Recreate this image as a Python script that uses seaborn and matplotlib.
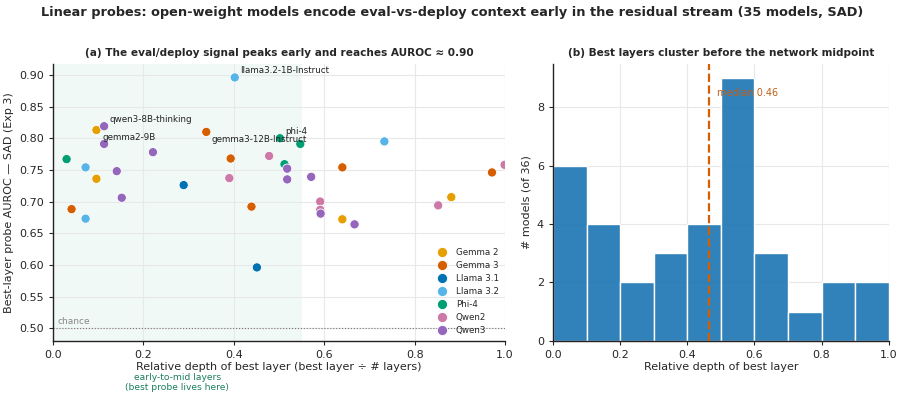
import numpy as np
import pandas as pd
import seaborn as sns
import matplotlib.pyplot as plt

# model families, relative depth of best layer, best-layer AUROC
family = (["Gemma 2"] * 4 + ["Gemma 3"] * 6 + ["Llama 3.1"] * 2 + ["Llama 3.2"] * 4
          + ["Phi-4"] * 4 + ["Qwen2"] * 6 + ["Qwen3"] * 10)
depth = [0.096, 0.096, 0.881, 0.640,
         0.339, 0.393, 0.041, 0.439, 0.640, 0.971,
         0.289, 0.451,
         0.402, 0.072, 0.072, 0.733,
         0.030, 0.502, 0.547, 0.512,
         0.478, 0.390, 0.591, 0.591, 0.852, 0.999,
         0.113, 0.113, 0.221, 0.141, 0.152, 0.518, 0.518, 0.571, 0.592, 0.667]
auroc = [0.813, 0.736, 0.707, 0.672,
         0.810, 0.768, 0.688, 0.692, 0.754, 0.746,
         0.726, 0.596,
         0.896, 0.754, 0.673, 0.795,
         0.767, 0.800, 0.791, 0.759,
         0.772, 0.737, 0.700, 0.687, 0.694, 0.758,
         0.819, 0.791, 0.778, 0.748, 0.706, 0.752, 0.735, 0.739, 0.681, 0.664]

families = ["Gemma 2", "Gemma 3", "Llama 3.1", "Llama 3.2", "Phi-4", "Qwen2", "Qwen3"]
colors = ["#E69F00", "#D55E00", "#0072B2", "#56B4E9", "#009E73", "#CC79A7", "#9467BD"]

# labelled points: index into the arrays, label, text offset in points
labels = [(12, "llama3.2-1B-Instruct", (4, 3)),
          (26, "qwen3-8B-thinking", (4, 3)),
          (27, "gemma2-9B", (-1, 3)),
          (4, "gemma3-12B-Instruct", (4, -7)),
          (17, "phi-4", (4, 3))]

df = pd.DataFrame({"family": family, "depth": depth, "auroc": auroc})
median = np.median(depth)

sns.set_style("whitegrid")
plt.rcParams["font.family"] = ["DejaVu Sans"]
plt.rcParams["grid.color"] = "#e8e8e8"

fig = plt.figure(figsize=(9.05, 4.01), dpi=100)
ax1 = fig.add_axes([0.0586, 0.150, 0.4995, 0.690])
ax2 = fig.add_axes([0.611, 0.150, 0.371, 0.690])

fig.suptitle("Linear probes: open-weight models encode eval-vs-deploy context early in the residual stream (35 models, SAD)",
             fontsize=9.3, fontweight="bold", y=0.985)

# (a) scatter
ax1.axvspan(0, 0.55, color="#009E73", alpha=0.06, lw=0, zorder=0)
ax1.axhline(0.5, color="#777777", ls=":", lw=0.8, zorder=1)
ax1.text(0.01, 0.503, "chance", color="#888888", fontsize=6.5, va="bottom")
sns.scatterplot(data=df, x="depth", y="auroc", hue="family", hue_order=families,
                palette=colors, s=44, edgecolor="white", linewidth=0.6, ax=ax1, zorder=3)
for i, txt, off in labels:
    ax1.annotate(txt, (depth[i], auroc[i]), xytext=off, textcoords="offset points",
                 fontsize=6.3, color="#222222")
ax1.set_xlim(0, 1)
ax1.set_ylim(0.48, 0.917)
ax1.set_xticks(np.arange(0, 1.01, 0.2))
ax1.set_yticks(np.arange(0.5, 0.91, 0.05))
ax1.tick_params(labelsize=8, length=3, left=True, bottom=True)
ax1.set_xlabel("Relative depth of best layer (best layer ÷ # layers)", fontsize=8, labelpad=1.5)
ax1.set_ylabel("Best-layer probe AUROC — SAD (Exp 3)", fontsize=8)
ax1.set_title("(a) The eval/deploy signal peaks early and reaches AUROC ≈ 0.90",
              fontsize=7.6, fontweight="bold")
ax1.text(0.275, -0.118, "early-to-mid layers\n(best probe lives here)", transform=ax1.get_xaxis_transform(),
         color="#1a7f5a", fontsize=6.6, ha="center", va="top", linespacing=1.1)
ax1.legend(loc="lower right", frameon=False, fontsize=6.3, markerscale=1.1,
           handletextpad=0.6, labelspacing=0.45, borderaxespad=0.3)

# (b) histogram
sns.histplot(x=depth, bins=np.linspace(0, 1, 11), color="#1f77b4", alpha=0.92,
             edgecolor="white", linewidth=1, ax=ax2, zorder=2)
ax2.axvline(median, color="#D55E00", ls="--", lw=1.6, zorder=3)
ax2.text(median + 0.025, 8.5, f"median {median:.2f}", color="#C0601A", fontsize=7, va="center")
ax2.set_xlim(0, 1)
ax2.set_ylim(0, 9.47)
ax2.set_xticks(np.arange(0, 1.01, 0.2))
ax2.set_yticks([0, 2, 4, 6, 8])
ax2.tick_params(labelsize=8, length=3, left=True, bottom=True)
ax2.set_xlabel("Relative depth of best layer", fontsize=8, labelpad=1.5)
ax2.set_ylabel("# models (of 36)", fontsize=8)
ax2.set_title("(b) Best layers cluster before the network midpoint", fontsize=7.6, fontweight="bold")

for ax in (ax1, ax2):
    ax.set_axisbelow(True)
    for side in ("top", "right"):
        ax.spines[side].set_visible(False)
    for side in ("left", "bottom"):
        ax.spines[side].set_color("#222222")
        ax.spines[side].set_linewidth(1.0)

fig.savefig("out.png", dpi=100)
